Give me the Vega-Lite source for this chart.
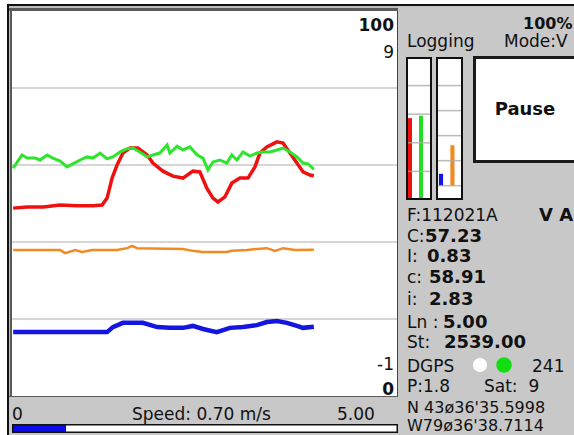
{
"$schema":"https://vega.github.io/schema/vega-lite/v6.json",
"padding":0,
"background":"#c8c8c8",
"config":{"view":{"stroke":null},"font":"DejaVu Sans","text":{"font":"DejaVu Sans"}},
"spacing":0,
"hconcat":[
 {"width":7,"height":435,"view":{"fill":"#ffffff","stroke":null},"data":{"values":[{}]},"mark":{"type":"text","text":"","clip":true},"encoding":{}},
 {"spacing":0,"vconcat":[
  {"width":567,"height":4,"view":{"fill":"#ffffff","stroke":null},"data":{"values":[{}]},"mark":{"type":"text","text":"","clip":true},"encoding":{}},
  {"width":567,"height":2,"view":{"fill":"#111111","stroke":null},"data":{"values":[{}]},"mark":{"type":"text","text":"","clip":true},"encoding":{}},
  {"spacing":0,"hconcat":[
   {"width":2,"height":429,"view":{"fill":"#111111","stroke":null},"data":{"values":[{}]},"mark":{"type":"text","text":"","clip":true},"encoding":{}},
   {"spacing":0,"vconcat":[
    {"width":389,"height":2,"view":{"fill":"#bdbdbd","stroke":null},"data":{"values":[{}]},"mark":{"type":"text","text":"","clip":true},"encoding":{}},
    {"width":389,"height":3,"view":{"fill":"#5a5a5a","stroke":null},"data":{"values":[{}]},"mark":{"type":"text","text":"","clip":true},"encoding":{}},
    {"spacing":0,"hconcat":[
     {"width":1,"height":385,"view":{"fill":"#bdbdbd","stroke":null},"data":{"values":[{}]},"mark":{"type":"text","text":"","clip":true},"encoding":{}},
     {"width":2,"height":385,"view":{"fill":"#5a5a5a","stroke":null},"data":{"values":[{}]},"mark":{"type":"text","text":"","clip":true},"encoding":{}},
     {"width":385,"height":385,"view":{"fill":"#ffffff","stroke":null},
      "layer":[
       {"data":{"values":[{"g":20},{"g":40},{"g":60},{"g":80}]},
        "mark":{"type":"rule","color":"#c8c8c8","strokeWidth":1.5,"clip":true},
        "encoding":{"y":{"field":"g","type":"quantitative","scale":{"domain":[0,100]},"axis":null}}},
       {"data":{"values":[{"t":0.3,"v":48.8},{"t":3.9,"v":49.1},{"t":8.1,"v":49.1},{"t":12.5,"v":49.6},{"t":16.9,"v":49.4},{"t":21.0,"v":49.4},{"t":23.4,"v":49.6},{"t":24.7,"v":51.4},{"t":26.0,"v":56.6},{"t":27.3,"v":60.0},{"t":28.8,"v":63.1},{"t":30.6,"v":64.4},{"t":32.7,"v":64.4},{"t":35.1,"v":62.6},{"t":36.6,"v":60.5},{"t":39.2,"v":58.4},{"t":41.8,"v":57.1},{"t":44.4,"v":56.6},{"t":47.0,"v":58.4},{"t":48.8,"v":58.2},{"t":50.6,"v":54.0},{"t":52.2,"v":51.4},{"t":53.5,"v":50.4},{"t":55.3,"v":51.7},{"t":57.1,"v":55.3},{"t":59.2,"v":56.6},{"t":61.3,"v":56.6},{"t":63.1,"v":59.5},{"t":64.4,"v":63.1},{"t":66.2,"v":64.7},{"t":68.8,"v":66.0},{"t":70.4,"v":65.7},{"t":72.2,"v":63.1},{"t":74.0,"v":60.5},{"t":75.6,"v":58.2},{"t":77.4,"v":57.4},{"t":78.4,"v":57.2}]},
        "mark":{"type":"line","color":"#ee1111","strokeWidth":3.5,"clip":true},
        "encoding":{"x":{"field":"t","type":"quantitative","scale":{"domain":[0,100]},"axis":null},"y":{"field":"v","type":"quantitative","scale":{"domain":[0,100]},"axis":null}}},
       {"data":{"values":[{"t":0.3,"v":59.2},{"t":2.6,"v":62.6},{"t":3.9,"v":61.8},{"t":6.0,"v":61.8},{"t":7.3,"v":61.3},{"t":9.1,"v":62.6},{"t":10.6,"v":61.8},{"t":12.5,"v":61.0},{"t":14.3,"v":59.5},{"t":15.8,"v":60.3},{"t":17.7,"v":61.3},{"t":19.5,"v":62.1},{"t":21.0,"v":61.8},{"t":22.9,"v":63.1},{"t":24.7,"v":61.6},{"t":26.2,"v":62.1},{"t":28.1,"v":63.4},{"t":29.9,"v":64.2},{"t":31.4,"v":64.4},{"t":33.2,"v":63.4},{"t":35.1,"v":62.1},{"t":36.6,"v":62.6},{"t":38.4,"v":63.1},{"t":40.3,"v":65.2},{"t":41.0,"v":63.1},{"t":42.9,"v":64.9},{"t":44.4,"v":63.9},{"t":46.2,"v":64.7},{"t":48.1,"v":62.6},{"t":49.6,"v":61.8},{"t":50.9,"v":58.7},{"t":52.2,"v":60.8},{"t":54.0,"v":61.3},{"t":55.8,"v":60.5},{"t":57.1,"v":62.6},{"t":58.4,"v":61.3},{"t":60.0,"v":63.4},{"t":61.8,"v":62.3},{"t":63.6,"v":63.1},{"t":65.2,"v":63.4},{"t":67.0,"v":63.4},{"t":68.8,"v":63.9},{"t":70.4,"v":64.4},{"t":72.2,"v":63.4},{"t":74.0,"v":62.1},{"t":75.6,"v":60.5},{"t":76.9,"v":60.3},{"t":78.4,"v":58.9}]},
        "mark":{"type":"line","color":"#2ee52e","strokeWidth":3,"clip":true},
        "encoding":{"x":{"field":"t","type":"quantitative","scale":{"domain":[0,100]},"axis":null},"y":{"field":"v","type":"quantitative","scale":{"domain":[0,100]},"axis":null}}},
       {"data":{"values":[{"t":0.3,"v":2.79},{"t":12.5,"v":2.79},{"t":13.8,"v":2.71},{"t":16.4,"v":2.79},{"t":18.2,"v":2.74},{"t":20.8,"v":2.79},{"t":27.3,"v":2.79},{"t":29.9,"v":2.84},{"t":31.2,"v":2.9},{"t":32.5,"v":2.84},{"t":44.4,"v":2.82},{"t":47.0,"v":2.77},{"t":49.4,"v":2.74},{"t":55.8,"v":2.74},{"t":57.1,"v":2.77},{"t":61.0,"v":2.79},{"t":63.6,"v":2.82},{"t":66.2,"v":2.84},{"t":68.3,"v":2.77},{"t":70.4,"v":2.84},{"t":73.5,"v":2.79},{"t":78.4,"v":2.8}]},
        "mark":{"type":"line","color":"#f28a22","strokeWidth":2.5,"clip":true},
        "encoding":{"x":{"field":"t","type":"quantitative","scale":{"domain":[0,100]},"axis":null},"y":{"field":"v","type":"quantitative","scale":{"domain":[-1,9]},"axis":null}}},
       {"data":{"values":[{"t":0.3,"v":0.66},{"t":24.7,"v":0.66},{"t":26.2,"v":0.79},{"t":28.8,"v":0.9},{"t":34.0,"v":0.9},{"t":37.7,"v":0.79},{"t":41.0,"v":0.77},{"t":44.4,"v":0.77},{"t":47.0,"v":0.82},{"t":49.6,"v":0.74},{"t":53.2,"v":0.66},{"t":56.6,"v":0.77},{"t":60.0,"v":0.79},{"t":63.6,"v":0.84},{"t":66.2,"v":0.92},{"t":68.8,"v":0.95},{"t":71.4,"v":0.9},{"t":74.0,"v":0.82},{"t":75.6,"v":0.77},{"t":78.4,"v":0.8}]},
        "mark":{"type":"line","color":"#1515e2","strokeWidth":4.5,"clip":true},
        "encoding":{"x":{"field":"t","type":"quantitative","scale":{"domain":[0,100]},"axis":null},"y":{"field":"v","type":"quantitative","scale":{"domain":[-1,9]},"axis":null}}},
       {"data":{"values":[{"v":100,"xmax":100}]},
        "mark":{"type":"text","align":"right","baseline":"alphabetic","dx":-3,"dy":20,"fontSize":17,"fontWeight":"bold","color":"#111111","clip":true},
        "encoding":{"x":{"field":"xmax","type":"quantitative","scale":{"domain":[0,100]},"axis":null},"y":{"field":"v","type":"quantitative","scale":{"domain":[0,100]},"axis":null},"text":{"field":"v","type":"nominal"}}},
       {"data":{"values":[{"v":0,"xmax":100}]},
        "mark":{"type":"text","align":"right","baseline":"alphabetic","dx":-3,"dy":-1,"fontSize":17,"fontWeight":"bold","color":"#111111","clip":true},
        "encoding":{"x":{"field":"xmax","type":"quantitative","scale":{"domain":[0,100]},"axis":null},"y":{"field":"v","type":"quantitative","scale":{"domain":[0,100]},"axis":null},"text":{"field":"v","type":"nominal"}}},
       {"data":{"values":[{"v":9,"xmax":100}]},
        "mark":{"type":"text","align":"right","baseline":"alphabetic","dx":-3,"dy":47,"fontSize":17,"color":"#111111","clip":true},
        "encoding":{"x":{"field":"xmax","type":"quantitative","scale":{"domain":[0,100]},"axis":null},"y":{"field":"v","type":"quantitative","scale":{"domain":[-1,9]},"axis":null},"text":{"field":"v","type":"nominal"}}},
       {"data":{"values":[{"v":-1,"xmax":100}]},
        "mark":{"type":"text","align":"right","baseline":"alphabetic","dx":-3,"dy":-26,"fontSize":17,"color":"#111111","clip":true},
        "encoding":{"x":{"field":"xmax","type":"quantitative","scale":{"domain":[0,100]},"axis":null},"y":{"field":"v","type":"quantitative","scale":{"domain":[-1,9]},"axis":null},"text":{"field":"v","type":"nominal"}}}
      ],
      "resolve":{"scale":{"y":"independent"}}},
     {"width":1,"height":385,"view":{"fill":"#444444","stroke":null},"data":{"values":[{}]},"mark":{"type":"text","text":"","clip":true},"encoding":{}}
    ]},
    {"width":389,"height":1,"view":{"fill":"#5a5a5a","stroke":null},"data":{"values":[{}]},"mark":{"type":"text","text":"","clip":true},"encoding":{}},
    {"spacing":0,"hconcat":[
     {"width":3,"height":27,"view":{"fill":"#c8c8c8","stroke":null},"data":{"values":[{}]},"mark":{"type":"text","text":"","clip":true},"encoding":{}},
     {"width":120,"height":27,"view":{"fill":"#c8c8c8","stroke":null},"data":{"values":[{"t":"0"}]},"mark":{"type":"text","align":"left","baseline":"bottom","fontSize":17,"color":"#111111","clip":true},"encoding":{"text":{"field":"t","type":"nominal"},"x":{"field":"t","type":"nominal","scale":{"type":"point","padding":0,"align":0},"axis":null},"y":{"field":"t","type":"nominal","scale":{"type":"point","padding":0,"align":1},"axis":null}}},
     {"width":205,"height":27,"view":{"fill":"#c8c8c8","stroke":null},"data":{"values":[{"t":"Speed: 0.70 m/s"}]},"mark":{"type":"text","align":"left","baseline":"bottom","fontSize":17,"color":"#111111","clip":true},"encoding":{"text":{"field":"t","type":"nominal"},"x":{"field":"t","type":"nominal","scale":{"type":"point","padding":0,"align":0},"axis":null},"y":{"field":"t","type":"nominal","scale":{"type":"point","padding":0,"align":1},"axis":null}}},
     {"width":61,"height":27,"view":{"fill":"#c8c8c8","stroke":null},"data":{"values":[{"t":"5.00"}]},"mark":{"type":"text","align":"left","baseline":"bottom","fontSize":17,"color":"#111111","clip":true},"encoding":{"text":{"field":"t","type":"nominal"},"x":{"field":"t","type":"nominal","scale":{"type":"point","padding":0,"align":0},"axis":null},"y":{"field":"t","type":"nominal","scale":{"type":"point","padding":0,"align":1},"axis":null}}}
    ]},
    {"spacing":0,"hconcat":[
     {"width":3,"height":9,"view":{"fill":"#c8c8c8","stroke":null},"data":{"values":[{}]},"mark":{"type":"text","text":"","clip":true},"encoding":{}},
     {"width":386,"height":9,"view":{"fill":"#ffffff","stroke":null},
      "layer":[
       {"data":{"values":[{"lo":0,"speed":0.7}]},"mark":{"type":"rect","color":"#0a0ae6","clip":true},"encoding":{"x":{"field":"lo","type":"quantitative","scale":{"domain":[0,5]},"axis":null},"x2":{"field":"speed"}}},
       {"data":{"values":[{}]},"mark":{"type":"rect","fillOpacity":0,"stroke":"#111111","strokeWidth":3,"clip":true},"encoding":{}}
      ]}
    ]},
    {"width":389,"height":2,"view":{"fill":"#c8c8c8","stroke":null},"data":{"values":[{}]},"mark":{"type":"text","text":"","clip":true},"encoding":{}}
   ]},
   {"spacing":0,"vconcat":[
    {"spacing":0,"hconcat":[
     {"width":125,"height":26,"view":{"fill":"#c8c8c8","stroke":null},"data":{"values":[{}]},"mark":{"type":"text","text":"","clip":true},"encoding":{}},
     {"width":51,"height":26,"view":{"fill":"#c8c8c8","stroke":null},"data":{"values":[{"t":"100%"}]},"mark":{"type":"text","align":"left","baseline":"bottom","fontSize":16,"fontWeight":"bold","color":"#111111","clip":true},"encoding":{"text":{"field":"t","type":"nominal"},"x":{"field":"t","type":"nominal","scale":{"type":"point","padding":0,"align":0},"axis":null},"y":{"field":"t","type":"nominal","scale":{"type":"point","padding":0,"align":1},"axis":null}}}
    ]},
    {"spacing":0,"hconcat":[
     {"width":9,"height":19,"view":{"fill":"#c8c8c8","stroke":null},"data":{"values":[{}]},"mark":{"type":"text","text":"","clip":true},"encoding":{}},
     {"width":97,"height":19,"view":{"fill":"#c8c8c8","stroke":null},"data":{"values":[{"t":"Logging"}]},"mark":{"type":"text","align":"left","baseline":"bottom","fontSize":17,"color":"#111111","clip":true},"encoding":{"text":{"field":"t","type":"nominal"},"x":{"field":"t","type":"nominal","scale":{"type":"point","padding":0,"align":0},"axis":null},"y":{"field":"t","type":"nominal","scale":{"type":"point","padding":0,"align":1},"axis":null}}},
     {"width":70,"height":19,"view":{"fill":"#c8c8c8","stroke":null},"data":{"values":[{"t":"Mode:V"}]},"mark":{"type":"text","align":"left","baseline":"bottom","fontSize":17,"color":"#111111","clip":true},"encoding":{"text":{"field":"t","type":"nominal"},"x":{"field":"t","type":"nominal","scale":{"type":"point","padding":0,"align":0},"axis":null},"y":{"field":"t","type":"nominal","scale":{"type":"point","padding":0,"align":1},"axis":null}}}
    ]},
    {"spacing":0,"hconcat":[
     {"width":8,"height":151,"view":{"fill":"#c8c8c8","stroke":null},"data":{"values":[{}]},"mark":{"type":"text","text":"","clip":true},"encoding":{}},
     {"spacing":0,"vconcat":[
      {"width":26,"height":6,"view":{"fill":"#c8c8c8","stroke":null},"data":{"values":[{}]},"mark":{"type":"text","text":"","clip":true},"encoding":{}},
      {"width":26,"height":143,"view":{"fill":"#ffffff","stroke":null},
       "layer":[
        {"data":{"values":[{"s":"C","v":57.23},{"s":"c","v":58.91}]},
         "mark":{"type":"bar","clip":true},
         "encoding":{"x":{"field":"s","type":"nominal","sort":null,"scale":{"paddingInner":0.636,"paddingOuter":0.5,"align":0.18},"axis":null},
          "y":{"field":"v","type":"quantitative","scale":{"domain":[0,100]},"axis":null},
          "color":{"field":"s","type":"nominal","scale":{"domain":["C","c","I","i"],"range":["#ee1111","#22dd22","#1515e2","#f28a22"]},"legend":null}}},
        {"data":{"values":[{"g":20},{"g":40},{"g":60},{"g":80}]},
         "mark":{"type":"rule","color":"#aaaaaa","strokeWidth":1.5,"opacity":0.8,"clip":true},
         "encoding":{"y":{"field":"g","type":"quantitative","axis":null}}},
        {"data":{"values":[{}]},"mark":{"type":"rect","fillOpacity":0,"stroke":"#111111","strokeWidth":4,"clip":true},"encoding":{}}
       ]},
      {"width":26,"height":2,"view":{"fill":"#c8c8c8","stroke":null},"data":{"values":[{}]},"mark":{"type":"text","text":"","clip":true},"encoding":{}}
     ]},
     {"width":4,"height":151,"view":{"fill":"#c8c8c8","stroke":null},"data":{"values":[{}]},"mark":{"type":"text","text":"","clip":true},"encoding":{}},
     {"spacing":0,"vconcat":[
      {"width":27,"height":6,"view":{"fill":"#c8c8c8","stroke":null},"data":{"values":[{}]},"mark":{"type":"text","text":"","clip":true},"encoding":{}},
      {"width":27,"height":143,"view":{"fill":"#ffffff","stroke":null},
       "layer":[
        {"data":{"values":[{"s":"I","v":0.83},{"s":"i","v":2.83}]},
         "mark":{"type":"bar","clip":true},
         "encoding":{"x":{"field":"s","type":"nominal","sort":null,"scale":{"paddingInner":0.636,"paddingOuter":0.5,"align":0.256},"axis":null},
          "y":{"field":"v","type":"quantitative","scale":{"domain":[-1,9]},"axis":null},
          "color":{"field":"s","type":"nominal","scale":{"domain":["C","c","I","i"],"range":["#ee1111","#22dd22","#1515e2","#f28a22"]},"legend":null}}},
        {"data":{"values":[{"g":0},{"g":1.75},{"g":3.5},{"g":5.25},{"g":7}]},
         "mark":{"type":"rule","color":"#aaaaaa","strokeWidth":1.5,"opacity":0.8,"clip":true},
         "encoding":{"y":{"field":"g","type":"quantitative","axis":null}}},
        {"data":{"values":[{}]},"mark":{"type":"rect","fillOpacity":0,"stroke":"#111111","strokeWidth":4,"clip":true},"encoding":{}}
       ]},
      {"width":27,"height":2,"view":{"fill":"#c8c8c8","stroke":null},"data":{"values":[{}]},"mark":{"type":"text","text":"","clip":true},"encoding":{}}
     ]},
     {"width":10,"height":151,"view":{"fill":"#c8c8c8","stroke":null},"data":{"values":[{}]},"mark":{"type":"text","text":"","clip":true},"encoding":{}},
     {"spacing":0,"vconcat":[
      {"width":101,"height":5,"view":{"fill":"#c8c8c8","stroke":null},"data":{"values":[{}]},"mark":{"type":"text","text":"","clip":true},"encoding":{}},
      {"width":101,"height":3,"view":{"fill":"#1a1a1a","stroke":null},"data":{"values":[{}]},"mark":{"type":"text","text":"","clip":true},"encoding":{}},
      {"spacing":0,"hconcat":[
       {"width":3,"height":101,"view":{"fill":"#1a1a1a","stroke":null},"data":{"values":[{}]},"mark":{"type":"text","text":"","clip":true},"encoding":{}},
       {"width":98,"height":101,"view":{"fill":"#ffffff","stroke":null},"data":{"values":[{"t":"Pause"}]},"mark":{"type":"text","align":"center","baseline":"middle","fontSize":18,"fontWeight":"bold","color":"#111111","clip":true},"encoding":{"text":{"field":"t","type":"nominal"}}}
      ]},
      {"width":101,"height":3,"view":{"fill":"#1a1a1a","stroke":null},"data":{"values":[{}]},"mark":{"type":"text","text":"","clip":true},"encoding":{}},
      {"width":101,"height":39,"view":{"fill":"#c8c8c8","stroke":null},"data":{"values":[{}]},"mark":{"type":"text","text":"","clip":true},"encoding":{}}
     ]}
    ]},
    {"spacing":0,"hconcat":[
     {"width":9,"height":23,"view":{"fill":"#c8c8c8","stroke":null},"data":{"values":[{}]},"mark":{"type":"text","text":"","clip":true},"encoding":{}},
     {"width":132,"height":23,"view":{"fill":"#c8c8c8","stroke":null},"data":{"values":[{"t":"F:112021A"}]},"mark":{"type":"text","align":"left","baseline":"bottom","fontSize":17,"color":"#111111","clip":true},"encoding":{"text":{"field":"t","type":"nominal"},"x":{"field":"t","type":"nominal","scale":{"type":"point","padding":0,"align":0},"axis":null},"y":{"field":"t","type":"nominal","scale":{"type":"point","padding":0,"align":1},"axis":null}}},
     {"width":35,"height":23,"view":{"fill":"#c8c8c8","stroke":null},"data":{"values":[{"t":"V A"}]},"mark":{"type":"text","align":"left","baseline":"bottom","fontSize":18,"fontWeight":"bold","color":"#111111","clip":true},"encoding":{"text":{"field":"t","type":"nominal"},"x":{"field":"t","type":"nominal","scale":{"type":"point","padding":0,"align":0},"axis":null},"y":{"field":"t","type":"nominal","scale":{"type":"point","padding":0,"align":1},"axis":null}}}
    ]},
    {"spacing":0,"hconcat":[
     {"width":9,"height":21,"view":{"fill":"#c8c8c8","stroke":null},"data":{"values":[{}]},"mark":{"type":"text","text":"","clip":true},"encoding":{}},
     {"width":18,"height":21,"view":{"fill":"#c8c8c8","stroke":null},"data":{"values":[{"t":"C:"}]},"mark":{"type":"text","align":"left","baseline":"bottom","fontSize":17,"color":"#111111","clip":true},"encoding":{"text":{"field":"t","type":"nominal"},"x":{"field":"t","type":"nominal","scale":{"type":"point","padding":0,"align":0},"axis":null},"y":{"field":"t","type":"nominal","scale":{"type":"point","padding":0,"align":1},"axis":null}}},
     {"width":149,"height":21,"view":{"fill":"#c8c8c8","stroke":null},"data":{"values":[{"t":"57.23"}]},"mark":{"type":"text","align":"left","baseline":"bottom","fontSize":18,"fontWeight":"bold","color":"#111111","clip":true},"encoding":{"text":{"field":"t","type":"nominal"},"x":{"field":"t","type":"nominal","scale":{"type":"point","padding":0,"align":0},"axis":null},"y":{"field":"t","type":"nominal","scale":{"type":"point","padding":0,"align":1},"axis":null}}}
    ]},
    {"spacing":0,"hconcat":[
     {"width":9,"height":20,"view":{"fill":"#c8c8c8","stroke":null},"data":{"values":[{}]},"mark":{"type":"text","text":"","clip":true},"encoding":{}},
     {"width":20,"height":20,"view":{"fill":"#c8c8c8","stroke":null},"data":{"values":[{"t":"I:"}]},"mark":{"type":"text","align":"left","baseline":"bottom","fontSize":17,"color":"#111111","clip":true},"encoding":{"text":{"field":"t","type":"nominal"},"x":{"field":"t","type":"nominal","scale":{"type":"point","padding":0,"align":0},"axis":null},"y":{"field":"t","type":"nominal","scale":{"type":"point","padding":0,"align":1},"axis":null}}},
     {"width":147,"height":20,"view":{"fill":"#c8c8c8","stroke":null},"data":{"values":[{"t":"0.83"}]},"mark":{"type":"text","align":"left","baseline":"bottom","fontSize":18,"fontWeight":"bold","color":"#111111","clip":true},"encoding":{"text":{"field":"t","type":"nominal"},"x":{"field":"t","type":"nominal","scale":{"type":"point","padding":0,"align":0},"axis":null},"y":{"field":"t","type":"nominal","scale":{"type":"point","padding":0,"align":1},"axis":null}}}
    ]},
    {"spacing":0,"hconcat":[
     {"width":9,"height":21,"view":{"fill":"#c8c8c8","stroke":null},"data":{"values":[{}]},"mark":{"type":"text","text":"","clip":true},"encoding":{}},
     {"width":22,"height":21,"view":{"fill":"#c8c8c8","stroke":null},"data":{"values":[{"t":"c:"}]},"mark":{"type":"text","align":"left","baseline":"bottom","fontSize":17,"color":"#111111","clip":true},"encoding":{"text":{"field":"t","type":"nominal"},"x":{"field":"t","type":"nominal","scale":{"type":"point","padding":0,"align":0},"axis":null},"y":{"field":"t","type":"nominal","scale":{"type":"point","padding":0,"align":1},"axis":null}}},
     {"width":145,"height":21,"view":{"fill":"#c8c8c8","stroke":null},"data":{"values":[{"t":"58.91"}]},"mark":{"type":"text","align":"left","baseline":"bottom","fontSize":18,"fontWeight":"bold","color":"#111111","clip":true},"encoding":{"text":{"field":"t","type":"nominal"},"x":{"field":"t","type":"nominal","scale":{"type":"point","padding":0,"align":0},"axis":null},"y":{"field":"t","type":"nominal","scale":{"type":"point","padding":0,"align":1},"axis":null}}}
    ]},
    {"spacing":0,"hconcat":[
     {"width":9,"height":22,"view":{"fill":"#c8c8c8","stroke":null},"data":{"values":[{}]},"mark":{"type":"text","text":"","clip":true},"encoding":{}},
     {"width":22,"height":22,"view":{"fill":"#c8c8c8","stroke":null},"data":{"values":[{"t":"i:"}]},"mark":{"type":"text","align":"left","baseline":"bottom","fontSize":17,"color":"#111111","clip":true},"encoding":{"text":{"field":"t","type":"nominal"},"x":{"field":"t","type":"nominal","scale":{"type":"point","padding":0,"align":0},"axis":null},"y":{"field":"t","type":"nominal","scale":{"type":"point","padding":0,"align":1},"axis":null}}},
     {"width":145,"height":22,"view":{"fill":"#c8c8c8","stroke":null},"data":{"values":[{"t":"2.83"}]},"mark":{"type":"text","align":"left","baseline":"bottom","fontSize":18,"fontWeight":"bold","color":"#111111","clip":true},"encoding":{"text":{"field":"t","type":"nominal"},"x":{"field":"t","type":"nominal","scale":{"type":"point","padding":0,"align":0},"axis":null},"y":{"field":"t","type":"nominal","scale":{"type":"point","padding":0,"align":1},"axis":null}}}
    ]},
    {"spacing":0,"hconcat":[
     {"width":9,"height":23,"view":{"fill":"#c8c8c8","stroke":null},"data":{"values":[{}]},"mark":{"type":"text","text":"","clip":true},"encoding":{}},
     {"width":36,"height":23,"view":{"fill":"#c8c8c8","stroke":null},"data":{"values":[{"t":"Ln :"}]},"mark":{"type":"text","align":"left","baseline":"bottom","fontSize":17,"color":"#111111","clip":true},"encoding":{"text":{"field":"t","type":"nominal"},"x":{"field":"t","type":"nominal","scale":{"type":"point","padding":0,"align":0},"axis":null},"y":{"field":"t","type":"nominal","scale":{"type":"point","padding":0,"align":1},"axis":null}}},
     {"width":131,"height":23,"view":{"fill":"#c8c8c8","stroke":null},"data":{"values":[{"t":"5.00"}]},"mark":{"type":"text","align":"left","baseline":"bottom","fontSize":18,"fontWeight":"bold","color":"#111111","clip":true},"encoding":{"text":{"field":"t","type":"nominal"},"x":{"field":"t","type":"nominal","scale":{"type":"point","padding":0,"align":0},"axis":null},"y":{"field":"t","type":"nominal","scale":{"type":"point","padding":0,"align":1},"axis":null}}}
    ]},
    {"spacing":0,"hconcat":[
     {"width":9,"height":20,"view":{"fill":"#c8c8c8","stroke":null},"data":{"values":[{}]},"mark":{"type":"text","text":"","clip":true},"encoding":{}},
     {"width":37,"height":20,"view":{"fill":"#c8c8c8","stroke":null},"data":{"values":[{"t":"St:"}]},"mark":{"type":"text","align":"left","baseline":"bottom","fontSize":17,"color":"#111111","clip":true},"encoding":{"text":{"field":"t","type":"nominal"},"x":{"field":"t","type":"nominal","scale":{"type":"point","padding":0,"align":0},"axis":null},"y":{"field":"t","type":"nominal","scale":{"type":"point","padding":0,"align":1},"axis":null}}},
     {"width":130,"height":20,"view":{"fill":"#c8c8c8","stroke":null},"data":{"values":[{"t":"2539.00"}]},"mark":{"type":"text","align":"left","baseline":"bottom","fontSize":18,"fontWeight":"bold","color":"#111111","clip":true},"encoding":{"text":{"field":"t","type":"nominal"},"x":{"field":"t","type":"nominal","scale":{"type":"point","padding":0,"align":0},"axis":null},"y":{"field":"t","type":"nominal","scale":{"type":"point","padding":0,"align":1},"axis":null}}}
    ]},
    {"spacing":0,"hconcat":[
     {"width":9,"height":24,"view":{"fill":"#c8c8c8","stroke":null},"data":{"values":[{}]},"mark":{"type":"text","text":"","clip":true},"encoding":{}},
     {"width":64,"height":24,"view":{"fill":"#c8c8c8","stroke":null},"data":{"values":[{"t":"DGPS"}]},"mark":{"type":"text","align":"left","baseline":"bottom","fontSize":17,"color":"#111111","clip":true},"encoding":{"text":{"field":"t","type":"nominal"},"x":{"field":"t","type":"nominal","scale":{"type":"point","padding":0,"align":0},"axis":null},"y":{"field":"t","type":"nominal","scale":{"type":"point","padding":0,"align":1},"axis":null}}},
     {"spacing":0,"vconcat":[
      {"width":18,"height":4,"view":{"fill":"#c8c8c8","stroke":null},"data":{"values":[{}]},"mark":{"type":"text","text":"","clip":true},"encoding":{}},
      {"width":18,"height":18,"view":{"fill":"#c8c8c8","stroke":null},"data":{"values":[{"gps":"DGPS"}]},"mark":{"type":"point","filled":true,"shape":"circle","size":200,"color":"#ffffff","opacity":1,"clip":true},"encoding":{}},
      {"width":18,"height":2,"view":{"fill":"#c8c8c8","stroke":null},"data":{"values":[{}]},"mark":{"type":"text","text":"","clip":true},"encoding":{}}
     ]},
     {"width":5,"height":24,"view":{"fill":"#c8c8c8","stroke":null},"data":{"values":[{}]},"mark":{"type":"text","text":"","clip":true},"encoding":{}},
     {"spacing":0,"vconcat":[
      {"width":20,"height":4,"view":{"fill":"#c8c8c8","stroke":null},"data":{"values":[{}]},"mark":{"type":"text","text":"","clip":true},"encoding":{}},
      {"width":20,"height":18,"view":{"fill":"#c8c8c8","stroke":null},"data":{"values":[{"fix":"on"}]},"mark":{"type":"point","filled":true,"shape":"circle","size":240,"color":"#11dd11","opacity":1,"clip":true},"encoding":{}},
      {"width":20,"height":2,"view":{"fill":"#c8c8c8","stroke":null},"data":{"values":[{}]},"mark":{"type":"text","text":"","clip":true},"encoding":{}}
     ]},
     {"width":18,"height":24,"view":{"fill":"#c8c8c8","stroke":null},"data":{"values":[{}]},"mark":{"type":"text","text":"","clip":true},"encoding":{}},
     {"width":42,"height":24,"view":{"fill":"#c8c8c8","stroke":null},"data":{"values":[{"t":"241"}]},"mark":{"type":"text","align":"left","baseline":"bottom","fontSize":17,"color":"#111111","clip":true},"encoding":{"text":{"field":"t","type":"nominal"},"x":{"field":"t","type":"nominal","scale":{"type":"point","padding":0,"align":0},"axis":null},"y":{"field":"t","type":"nominal","scale":{"type":"point","padding":0,"align":1},"axis":null}}}
    ]},
    {"spacing":0,"hconcat":[
     {"width":9,"height":20,"view":{"fill":"#c8c8c8","stroke":null},"data":{"values":[{}]},"mark":{"type":"text","text":"","clip":true},"encoding":{}},
     {"width":77,"height":20,"view":{"fill":"#c8c8c8","stroke":null},"data":{"values":[{"t":"P:1.8"}]},"mark":{"type":"text","align":"left","baseline":"bottom","fontSize":17,"color":"#111111","clip":true},"encoding":{"text":{"field":"t","type":"nominal"},"x":{"field":"t","type":"nominal","scale":{"type":"point","padding":0,"align":0},"axis":null},"y":{"field":"t","type":"nominal","scale":{"type":"point","padding":0,"align":1},"axis":null}}},
     {"width":90,"height":20,"view":{"fill":"#c8c8c8","stroke":null},"data":{"values":[{"t":"Sat:\u00a0 9"}]},"mark":{"type":"text","align":"left","baseline":"bottom","fontSize":17,"color":"#111111","clip":true},"encoding":{"text":{"field":"t","type":"nominal"},"x":{"field":"t","type":"nominal","scale":{"type":"point","padding":0,"align":0},"axis":null},"y":{"field":"t","type":"nominal","scale":{"type":"point","padding":0,"align":1},"axis":null}}}
    ]},
    {"spacing":0,"hconcat":[
     {"width":9,"height":20,"view":{"fill":"#c8c8c8","stroke":null},"data":{"values":[{}]},"mark":{"type":"text","text":"","clip":true},"encoding":{}},
     {"width":167,"height":20,"view":{"fill":"#c8c8c8","stroke":null},"data":{"values":[{"t":"N 43ø36'35.5998"}]},"mark":{"type":"text","align":"left","baseline":"bottom","fontSize":16,"color":"#111111","clip":true},"encoding":{"text":{"field":"t","type":"nominal"},"x":{"field":"t","type":"nominal","scale":{"type":"point","padding":0,"align":0},"axis":null},"y":{"field":"t","type":"nominal","scale":{"type":"point","padding":0,"align":1},"axis":null}}}
    ]},
    {"spacing":0,"hconcat":[
     {"width":9,"height":18,"view":{"fill":"#c8c8c8","stroke":null},"data":{"values":[{}]},"mark":{"type":"text","text":"","clip":true},"encoding":{}},
     {"width":167,"height":18,"view":{"fill":"#c8c8c8","stroke":null},"data":{"values":[{"t":"W79ø36'38.7114"}]},"mark":{"type":"text","align":"left","baseline":"bottom","fontSize":16,"color":"#111111","clip":true},"encoding":{"text":{"field":"t","type":"nominal"},"x":{"field":"t","type":"nominal","scale":{"type":"point","padding":0,"align":0},"axis":null},"y":{"field":"t","type":"nominal","scale":{"type":"point","padding":0,"align":1},"axis":null}}}
    ]},
    {"width":176,"height":1,"view":{"fill":"#c8c8c8","stroke":null},"data":{"values":[{}]},"mark":{"type":"text","text":"","clip":true},"encoding":{}}
   ]}
  ]}
 ]}
]
}
